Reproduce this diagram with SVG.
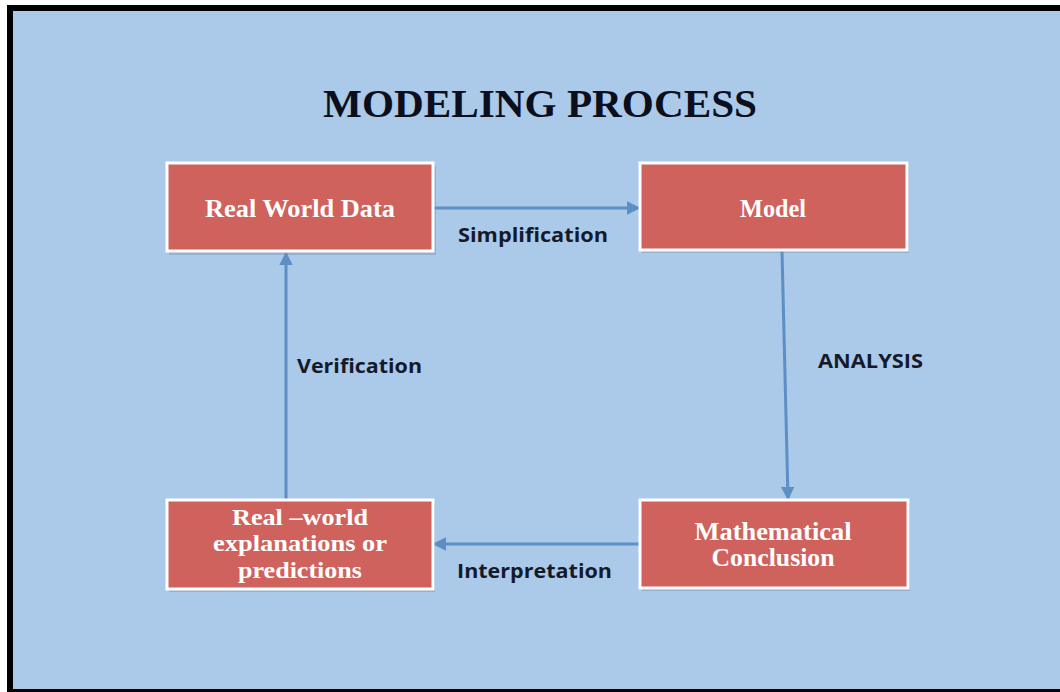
<svg xmlns="http://www.w3.org/2000/svg" width="1060" height="692" viewBox="0 0 1060 692">
<style>
.box{fill:#cf625c;stroke:#ffffff;stroke-width:3}
.shadow{fill:#7f95ab;opacity:0.45}
.bt{font-family:"Liberation Serif","Times New Roman",serif;font-weight:bold;font-size:25px;fill:#ffffff;text-anchor:middle}
.bs{font-size:23px}
.lbl{font-family:"Open Sans","Liberation Sans",sans-serif;font-weight:bold;font-size:19px;fill:#141a2a}
.conn{stroke:#5d8fc5;stroke-width:3;fill:none}
</style>
<defs>
<marker id="ah" viewBox="0 0 10 10" refX="9" refY="5" markerWidth="4.5" markerHeight="4.5" orient="auto" markerUnits="strokeWidth">
<path d="M0,0 L10,5 L0,10 z" fill="#5d8fc5"/>
</marker>
</defs>
<rect x="0" y="0" width="1060" height="692" fill="#ffffff"/>
<rect x="7" y="5" width="1060" height="690" fill="#000000"/>
<rect x="13" y="11" width="1050" height="678" fill="#abc9e9"/>
<text x="540" y="117" font-family="Liberation Serif,'Times New Roman',serif" font-weight="bold" font-size="41" fill="#0b0f1c" text-anchor="middle" textLength="434" lengthAdjust="spacingAndGlyphs">MODELING PROCESS</text>
<g id="connectors">
<line class="conn" x1="434" y1="208" x2="639" y2="208" marker-end="url(#ah)"/>
<line class="conn" x1="782" y1="251" x2="788" y2="499" marker-end="url(#ah)"/>
<line class="conn" x1="640" y1="544" x2="434" y2="544" marker-end="url(#ah)"/>
<line class="conn" x1="286" y1="500" x2="286" y2="253" marker-end="url(#ah)"/>
</g>
<g id="labels">
<text class="lbl" x="458" y="242" textLength="150" lengthAdjust="spacingAndGlyphs">Simplification</text>
<text class="lbl" x="818" y="368" textLength="105" lengthAdjust="spacingAndGlyphs">ANALYSIS</text>
<text class="lbl" x="457" y="578" textLength="155" lengthAdjust="spacingAndGlyphs">Interpretation</text>
<text class="lbl" x="297" y="373" textLength="125" lengthAdjust="spacingAndGlyphs">Verification</text>
</g>
<g id="node-real-world-data">
<rect class="shadow" x="169" y="166" width="267" height="89"/>
<rect class="box" x="167" y="163" width="266" height="88"/>
<text class="bt" x="300" y="217" textLength="190" lengthAdjust="spacingAndGlyphs">Real World Data</text>
</g>
<g id="node-model">
<rect class="shadow" x="642" y="166" width="267" height="87"/>
<rect class="box" x="640" y="163" width="267" height="87"/>
<text class="bt" x="773" y="217" textLength="66" lengthAdjust="spacingAndGlyphs">Model</text>
</g>
<g id="node-mathematical-conclusion">
<rect class="shadow" x="642" y="503" width="268" height="88"/>
<rect class="box" x="640" y="500" width="268" height="88"/>
<text class="bt" x="773" y="540" textLength="157" lengthAdjust="spacingAndGlyphs">Mathematical</text>
<text class="bt" x="773" y="566" textLength="123" lengthAdjust="spacingAndGlyphs">Conclusion</text>
</g>
<g id="node-real-world-explanations">
<rect class="shadow" x="169" y="503" width="266" height="89"/>
<rect class="box" x="167" y="500" width="266" height="89"/>
<text class="bt bs" x="300" y="525" textLength="136" lengthAdjust="spacingAndGlyphs">Real –world</text>
<text class="bt bs" x="300" y="551" textLength="174" lengthAdjust="spacingAndGlyphs">explanations or</text>
<text class="bt bs" x="300" y="578" textLength="124" lengthAdjust="spacingAndGlyphs">predictions</text>
</g>
</svg>
